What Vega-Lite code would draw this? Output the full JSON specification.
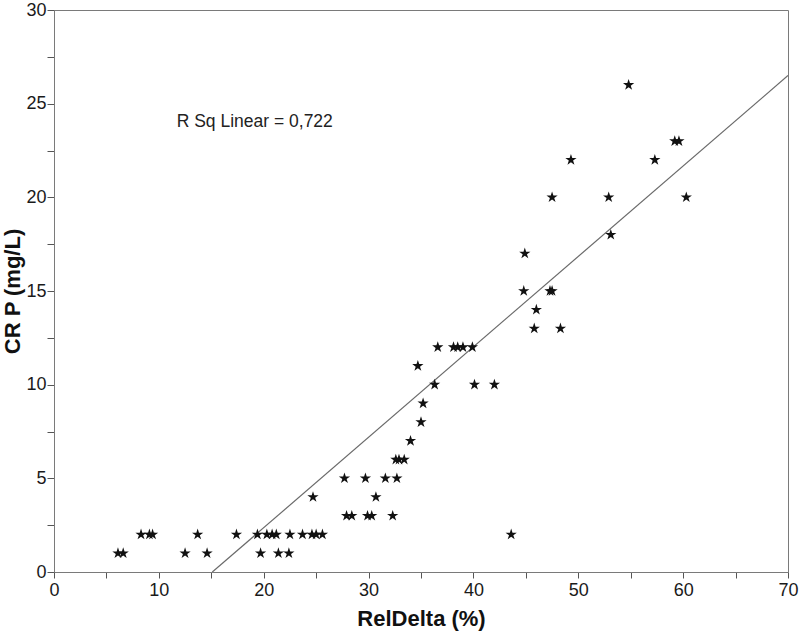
{
  "$schema": "https://vega.github.io/schema/vega-lite/v6.json",
  "width": 734,
  "height": 562,
  "autosize": {"type": "none"},
  "padding": {"left": 54, "top": 10, "right": 12, "bottom": 68},
  "background": "white",
  "config": {
    "view": {"stroke": "#7a7a7a", "strokeWidth": 1},
    "font": "Liberation Sans",
    "axis": {
      "grid": false,
      "domainColor": "#7a7a7a",
      "tickColor": "#555555",
      "labelFont": "Liberation Sans",
      "labelFontSize": 18,
      "labelColor": "#1a1a1a",
      "titleFont": "Liberation Sans",
      "titleFontWeight": "bold",
      "titleFontSize": 22,
      "titleColor": "#111111"
    }
  },
  "datasets": {
    "points": [
      {"reldelta": 6.1, "crp": 1}, {"reldelta": 6.6, "crp": 1}, {"reldelta": 12.5, "crp": 1}, {"reldelta": 14.6, "crp": 1},
      {"reldelta": 19.7, "crp": 1}, {"reldelta": 21.4, "crp": 1}, {"reldelta": 22.4, "crp": 1},
      {"reldelta": 8.3, "crp": 2}, {"reldelta": 9.1, "crp": 2}, {"reldelta": 9.4, "crp": 2}, {"reldelta": 13.7, "crp": 2},
      {"reldelta": 17.4, "crp": 2}, {"reldelta": 19.4, "crp": 2}, {"reldelta": 20.3, "crp": 2}, {"reldelta": 20.8, "crp": 2},
      {"reldelta": 21.2, "crp": 2}, {"reldelta": 22.5, "crp": 2}, {"reldelta": 23.7, "crp": 2}, {"reldelta": 24.6, "crp": 2},
      {"reldelta": 25.0, "crp": 2}, {"reldelta": 25.6, "crp": 2}, {"reldelta": 43.6, "crp": 2},
      {"reldelta": 27.9, "crp": 3}, {"reldelta": 28.4, "crp": 3}, {"reldelta": 29.9, "crp": 3}, {"reldelta": 30.3, "crp": 3}, {"reldelta": 32.3, "crp": 3},
      {"reldelta": 24.7, "crp": 4}, {"reldelta": 30.7, "crp": 4},
      {"reldelta": 27.7, "crp": 5}, {"reldelta": 29.7, "crp": 5}, {"reldelta": 31.6, "crp": 5}, {"reldelta": 32.7, "crp": 5},
      {"reldelta": 32.6, "crp": 6}, {"reldelta": 32.9, "crp": 6}, {"reldelta": 33.4, "crp": 6},
      {"reldelta": 34.0, "crp": 7},
      {"reldelta": 35.0, "crp": 8},
      {"reldelta": 35.2, "crp": 9},
      {"reldelta": 36.3, "crp": 10}, {"reldelta": 40.1, "crp": 10}, {"reldelta": 42.0, "crp": 10},
      {"reldelta": 34.7, "crp": 11},
      {"reldelta": 36.6, "crp": 12}, {"reldelta": 38.1, "crp": 12}, {"reldelta": 38.5, "crp": 12}, {"reldelta": 39.0, "crp": 12}, {"reldelta": 39.9, "crp": 12},
      {"reldelta": 45.8, "crp": 13}, {"reldelta": 48.3, "crp": 13},
      {"reldelta": 46.0, "crp": 14},
      {"reldelta": 44.8, "crp": 15}, {"reldelta": 47.3, "crp": 15}, {"reldelta": 47.5, "crp": 15},
      {"reldelta": 44.9, "crp": 17},
      {"reldelta": 53.1, "crp": 18},
      {"reldelta": 47.5, "crp": 20}, {"reldelta": 52.9, "crp": 20}, {"reldelta": 60.3, "crp": 20},
      {"reldelta": 49.3, "crp": 22}, {"reldelta": 57.3, "crp": 22},
      {"reldelta": 59.2, "crp": 23}, {"reldelta": 59.6, "crp": 23},
      {"reldelta": 54.8, "crp": 26}
    ],
    "fit": [
      {"reldelta": 15.1, "crp": 0},
      {"reldelta": 70, "crp": 26.5}
    ],
    "note": [
      {"reldelta": 11.7, "crp": 24, "label": "R Sq Linear = 0,722"}
    ]
  },
  "layer": [
    {
      "data": {"name": "fit"},
      "mark": {"type": "line", "color": "#6a6a6a", "strokeWidth": 1.2, "clip": true},
      "encoding": {
        "x": {
          "field": "reldelta", "type": "quantitative",
          "scale": {"domain": [0, 70], "nice": false, "zero": false},
          "axis": {
            "title": "RelDelta (%)",
            "values": [0, 5, 10, 15, 20, 25, 30, 35, 40, 45, 50, 55, 60, 65, 70],
            "labelExpr": "datum.value % 10 == 0 ? datum.label : ''",
            "tickSize": 6,
            "labelPadding": 3,
            "titlePadding": 9,
            "labelFlush": false
          }
        },
        "y": {
          "field": "crp", "type": "quantitative",
          "scale": {"domain": [0, 30], "nice": false, "zero": false},
          "axis": {
            "title": "CR P (mg/L)",
            "values": [0, 2.5, 5, 7.5, 10, 12.5, 15, 17.5, 20, 22.5, 25, 27.5, 30],
            "labelExpr": "datum.value % 5 == 0 ? datum.label : ''",
            "tickSize": 7,
            "labelPadding": 1,
            "titlePadding": 1,
            "labelFlush": false
          }
        }
      }
    },
    {
      "data": {"name": "points"},
      "mark": {
        "type": "point",
        "shape": "M0,-1L0.2245,-0.309L0.951,-0.309L0.363,0.118L0.588,0.809L0,0.382L-0.588,0.809L-0.363,0.118L-0.951,-0.309L-0.2245,-0.309Z",
        "filled": true,
        "color": "#111111",
        "size": 140,
        "opacity": 1
      },
      "encoding": {
        "x": {"field": "reldelta", "type": "quantitative"},
        "y": {"field": "crp", "type": "quantitative"}
      }
    },
    {
      "data": {"name": "note"},
      "mark": {"type": "text", "align": "left", "baseline": "middle", "fontSize": 17.5, "color": "#222222", "font": "Liberation Sans"},
      "encoding": {
        "x": {"field": "reldelta", "type": "quantitative"},
        "y": {"field": "crp", "type": "quantitative"},
        "text": {"field": "label"}
      }
    }
  ]
}
